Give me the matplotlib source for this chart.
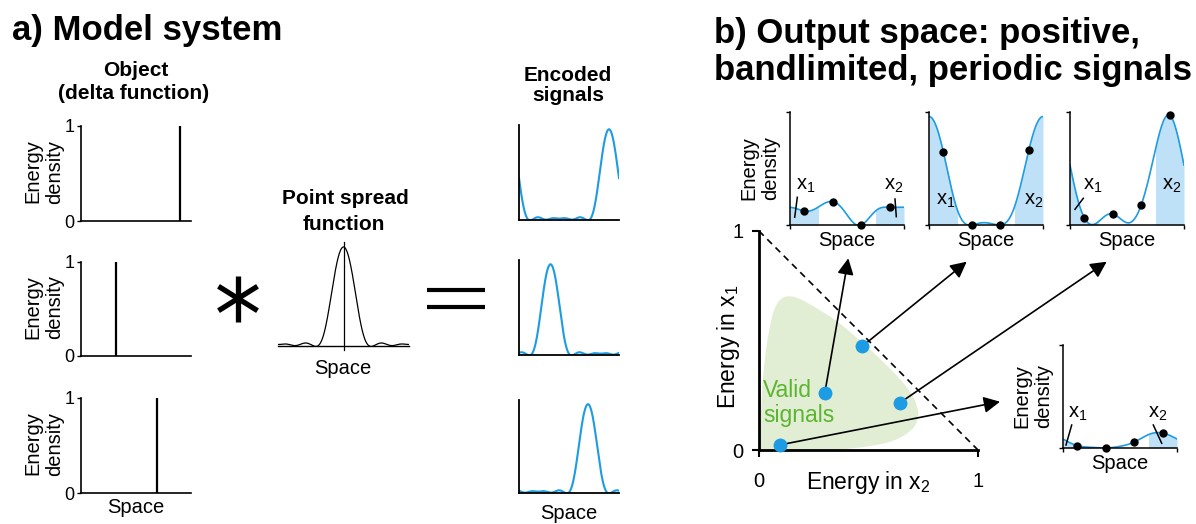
import numpy as np
import matplotlib
matplotlib.use('Agg')
import matplotlib.pyplot as plt
from matplotlib.path import Path
from matplotlib.patches import PathPatch

plt.rcParams['font.family'] = ['Liberation Sans', 'DejaVu Sans']
plt.rcParams['mathtext.fontset'] = 'custom'
plt.rcParams['mathtext.rm'] = 'Liberation Sans'

W, H = 1196, 524

# ---- data: panel a ----
delta_positions = [0.90, 0.315, 0.69]          # object delta locations (fraction of period)
# point spread function, one period sampled at k/16 (peak at offset 0)
psf_samples = [1.0, 0.76, 0.27, 0.01, 0.015, 0.025, 0.004, 0.02,
               0.015, 0.02, 0.004, 0.025, 0.015, 0.01, 0.27, 0.76]

# ---- data: panel b ----
sample_x = [0.0, 0.125, 0.25, 0.375, 0.5, 0.625, 0.75, 0.875]
signal_a = [0.157, 0.124, 0.16, 0.207, 0.09, 0.0, 0.124, 0.157]
signal_b = [0.96, 0.65, 0.13, 0.0, 0.02, 0.0, 0.16, 0.66]
signal_c = [0.53, 0.065, 0.03, 0.098, 0.02, 0.178, 0.67, 0.97]
signal_d = [0.087, 0.023, 0.006, 0.0, 0.016, 0.058, 0.13, 0.145]
energy_x2 = [0.30, 0.472, 0.644, 0.094]
energy_x1 = [0.258, 0.474, 0.216, 0.023]
valid_x2 = [-0.02, 0.006, 0.015, 0.03, 0.05, 0.07, 0.10, 0.14, 0.19, 0.25, 0.35, 0.45,
            0.55, 0.63, 0.69, 0.725, 0.73, 0.70, 0.62, 0.50, 0.35, 0.20]
valid_x1 = [-0.02, 0.10, 0.30, 0.45, 0.57, 0.65, 0.695, 0.705, 0.69, 0.655, 0.595, 0.51,
            0.42, 0.34, 0.27, 0.20, 0.14, 0.09, 0.04, 0.015, 0.0, -0.02]

BLUE = '#1d9be3'
SHADE = '#bfe1f7'
GREEN_FILL = '#e1eed4'
GREEN_TEXT = '#5cb531'


def bandlimited(samples, x):
    """periodic trigonometric interpolation of equally spaced samples"""
    s = np.asarray(samples, float)
    n = len(s)
    c = np.fft.fft(s) / n
    out = np.full(np.shape(x), c[0].real)
    for k in range(1, (n + 1) // 2):
        out += 2 * (c[k] * np.exp(2j * np.pi * k * x)).real
    if n % 2 == 0:
        out += c[n // 2].real * np.cos(np.pi * n * x)
    return out


fig = plt.figure(figsize=(W / 100, H / 100), dpi=100)


def px_axes(x0, y0, x1, y1):
    return fig.add_axes([x0 / W, 1 - y1 / H, (x1 - x0) / W, (y1 - y0) / H])


def ftext(x, y, s, **kw):
    return fig.text(x / W, 1 - y / H, s, **kw)


def clean(ax, lw=1.0):
    for side in ('top', 'right'):
        ax.spines[side].set_visible(False)
    for side in ('left', 'bottom'):
        ax.spines[side].set_linewidth(lw)


# ---------------- panel a ----------------
ftext(12, 40, 'a) Model system', fontsize=25, fontweight='bold')
ftext(136, 76, 'Object', fontsize=15, fontweight='bold', ha='center')
ftext(134, 99, '(delta function)', fontsize=15, fontweight='bold', ha='center')

obj_rects = [(81, 126, 191, 221), (81, 262, 191, 356), (81, 398, 191, 493)]
for rect, pos in zip(obj_rects, delta_positions):
    ax = px_axes(*rect)
    clean(ax, 1.2)
    ax.vlines(pos, 0, 1, color='k', lw=1.6)
    ax.set_xlim(0, 1)
    ax.set_ylim(0, 1)
    ax.set_xticks([])
    ax.set_yticks([0, 1])
    ax.tick_params(axis='y', length=3, width=1, pad=1.5, labelsize=13)
    ftext(44, (rect[1] + rect[3]) / 2 - 2, 'Energy\ndensity', fontsize=14.5,
          rotation=90, ha='center', va='center', rotation_mode='anchor')
ftext(136, 513, 'Space', fontsize=14.5, ha='center')

# point spread function
ax = px_axes(278, 242, 409, 346)
xs = np.linspace(-0.5, 0.5, 500)
ax.plot(xs, bandlimited(psf_samples, xs), color='k', lw=0.9)
ax.plot([0, 0], [-0.04, 1.05], color='k', lw=0.9, clip_on=False)
ax.set_xlim(-0.5, 0.5)
ax.set_ylim(0, 1.05)
ax.set_xticks([])
ax.set_yticks([])
for side in ('top', 'right', 'left'):
    ax.spines[side].set_visible(False)
ax.spines['bottom'].set_linewidth(1.0)
ftext(345, 204, 'Point spread', fontsize=15, fontweight='bold', ha='center')
ftext(344, 230, 'function', fontsize=15, fontweight='bold', ha='center')
ftext(343, 374, 'Space', fontsize=14.5, ha='center')

# encoded signals
ftext(568, 81, 'Encoded', fontsize=15, fontweight='bold', ha='center')
ftext(568, 101, 'signals', fontsize=15, fontweight='bold', ha='center')
enc_rects = [(519, 125, 619, 220), (519, 260, 619, 355), (519, 400, 619, 493)]
xs = np.linspace(0, 1, 500)
for rect, pos in zip(enc_rects, delta_positions):
    ax = px_axes(*rect)
    clean(ax, 1.3)
    ax.plot(xs, bandlimited(psf_samples, xs - pos), color=BLUE, lw=1.5)
    ax.set_xlim(0, 1)
    ax.set_ylim(0, 1.047)
    ax.set_xticks([])
    ax.set_yticks([])
ftext(569, 519, 'Space', fontsize=14.5, ha='center')

# ---------------- panel b ----------------
ftext(714, 43, 'b) Output space: positive,', fontsize=25, fontweight='bold')
ftext(714, 80, 'bandlimited, periodic signals', fontsize=25, fontweight='bold')

# main energy plane
ax = px_axes(759, 231, 978, 450)
clean(ax, 2.0)
verts = np.column_stack([valid_x2, valid_x1])
mids = (verts + np.roll(verts, -1, axis=0)) / 2
pv = [mids[-1]]
codes = [Path.MOVETO]
for v, m in zip(verts, mids):
    pv += [v, m]
    codes += [Path.CURVE3, Path.CURVE3]
ax.add_patch(PathPatch(Path(pv, codes), fc=GREEN_FILL, ec='none', zorder=0))
ax.plot([0, 1], [1, 0], color='k', lw=1.2, dashes=(4, 3))
ax.set_xlim(0, 1)
ax.set_ylim(0, 1)
ax.set_xticks([0, 1])
ax.set_yticks([0, 1])
ax.tick_params(length=5, width=1.5, labelsize=14.5)
ax.tick_params(axis='x', pad=11)
ax.tick_params(axis='y', pad=6)
ax.text(0.5, -(489 - 450) / 219, 'Energy in x$_\\mathregular{2}$', transform=ax.transAxes,
        fontsize=16.5, ha='center', va='baseline')
ax.text(-(759 - 735) / 219, (450 - 347) / 219, 'Energy in x$_\\mathregular{1}$',
        transform=ax.transAxes, fontsize=16.5, rotation=90, ha='center', va='baseline',
        rotation_mode='anchor')
ax.text(0.02, (450 - 397) / 219, 'Valid', color=GREEN_TEXT, fontsize=16.5,
        transform=ax.transAxes, va='baseline')
ax.text(0.02, (450 - 422) / 219, 'signals', color=GREEN_TEXT, fontsize=16.5,
        transform=ax.transAxes, va='baseline')

# arrows from each signal to its inset
targets = [(848.3, 258.3), (966.7, 261.7), (1106.7, 261.7), (1000, 401.7)]
for x2, x1, (tx, ty) in zip(energy_x2, energy_x1, targets):
    ax.annotate('', xy=(tx, H - ty), xycoords='figure pixels',
                xytext=(x2, x1), textcoords='data',
                arrowprops=dict(arrowstyle='-|>,head_length=0.75,head_width=0.38',
                                mutation_scale=13, lw=1.2, color='k',
                                shrinkA=0, shrinkB=0),
                annotation_clip=False)
ax.plot(energy_x2, energy_x1, 'o', color=BLUE, ms=10, mec='none', zorder=5, clip_on=False)

# insets
inset_rects = [(790, 112, 904, 225), (929, 112, 1043, 225),
               (1070, 112, 1184, 225), (1063, 345, 1177, 448)]
signals = [signal_a, signal_b, signal_c, signal_d]
xs = np.linspace(0, 1, 401)
for i, (rect, sig) in enumerate(zip(inset_rects, signals)):
    ax = px_axes(*rect)
    clean(ax, 1.1)
    ys = np.clip(bandlimited(sig, xs), 0, None)
    lo = xs <= 0.25
    hi = xs >= 0.75
    ax.fill_between(xs[lo], ys[lo], color=SHADE, lw=0)
    ax.fill_between(xs[hi], ys[hi], color=SHADE, lw=0)
    ax.plot(xs, ys, color=BLUE, lw=1.2)
    ax.plot(sample_x[1::2], sig[1::2], 'o', color='k', ms=5, clip_on=False, zorder=5)
    ax.set_xlim(0, 1)
    ax.set_ylim(0, 1)
    ax.set_xticks([0, 1])
    ax.set_yticks([0, 1])
    ax.set_xticklabels([])
    ax.set_yticklabels([])
    ax.tick_params(length=3, width=1)
    ftext((rect[0] + rect[2]) / 2, rect[3] + 21, 'Space', fontsize=14.5, ha='center')

ftext(760, 168, 'Energy\ndensity', fontsize=14.5, rotation=90, ha='center', va='center',
      rotation_mode='anchor')
ftext(1033, 396, 'Energy\ndensity', fontsize=14.5, rotation=90, ha='center', va='center',
      rotation_mode='anchor')

# x1 / x2 region labels
x1_lab = 'x$_\\mathregular{1}$'
x2_lab = 'x$_\\mathregular{2}$'
for (x, y, s) in [(796, 190, x1_lab), (884, 190, x2_lab), (936, 205, x1_lab),
                  (1024, 205, x2_lab), (1083, 190, x1_lab), (1162, 190, x2_lab),
                  (1068, 418, x1_lab), (1148, 418, x2_lab)]:
    ftext(x, y, s, fontsize=14.5, va='baseline')

# overlay in pixel coordinates for the operators and leader lines
ov = fig.add_axes([0, 0, 1, 1], zorder=10)
ov.set_xlim(0, W)
ov.set_ylim(H, 0)
ov.axis('off')
for (xa, ya, xb, yb) in [(797.3, 197.3, 794.7, 217.3), (895, 199, 896.3, 216.7),
                         (1083.3, 198.3, 1075, 209.3), (1071.7, 425, 1066, 445),
                         (1153.3, 425, 1161.7, 443.3)]:
    ov.plot([xa, xb], [ya, yb], color='k', lw=1.1)
# equals sign
for y in (290, 307):
    ov.plot([427, 485], [y, y], color='k', lw=3, solid_capstyle='butt')
# asterisk
cx, cy, r = 238, 298.5, 23
for ang in (90, 32, -32):
    dx, dy = r * np.cos(np.radians(ang)), r * np.sin(np.radians(ang))
    ov.plot([cx - dx, cx + dx], [cy - dy, cy + dy], color='k', lw=3.8,
            solid_capstyle='butt')

fig.savefig('out.png', dpi=100)
